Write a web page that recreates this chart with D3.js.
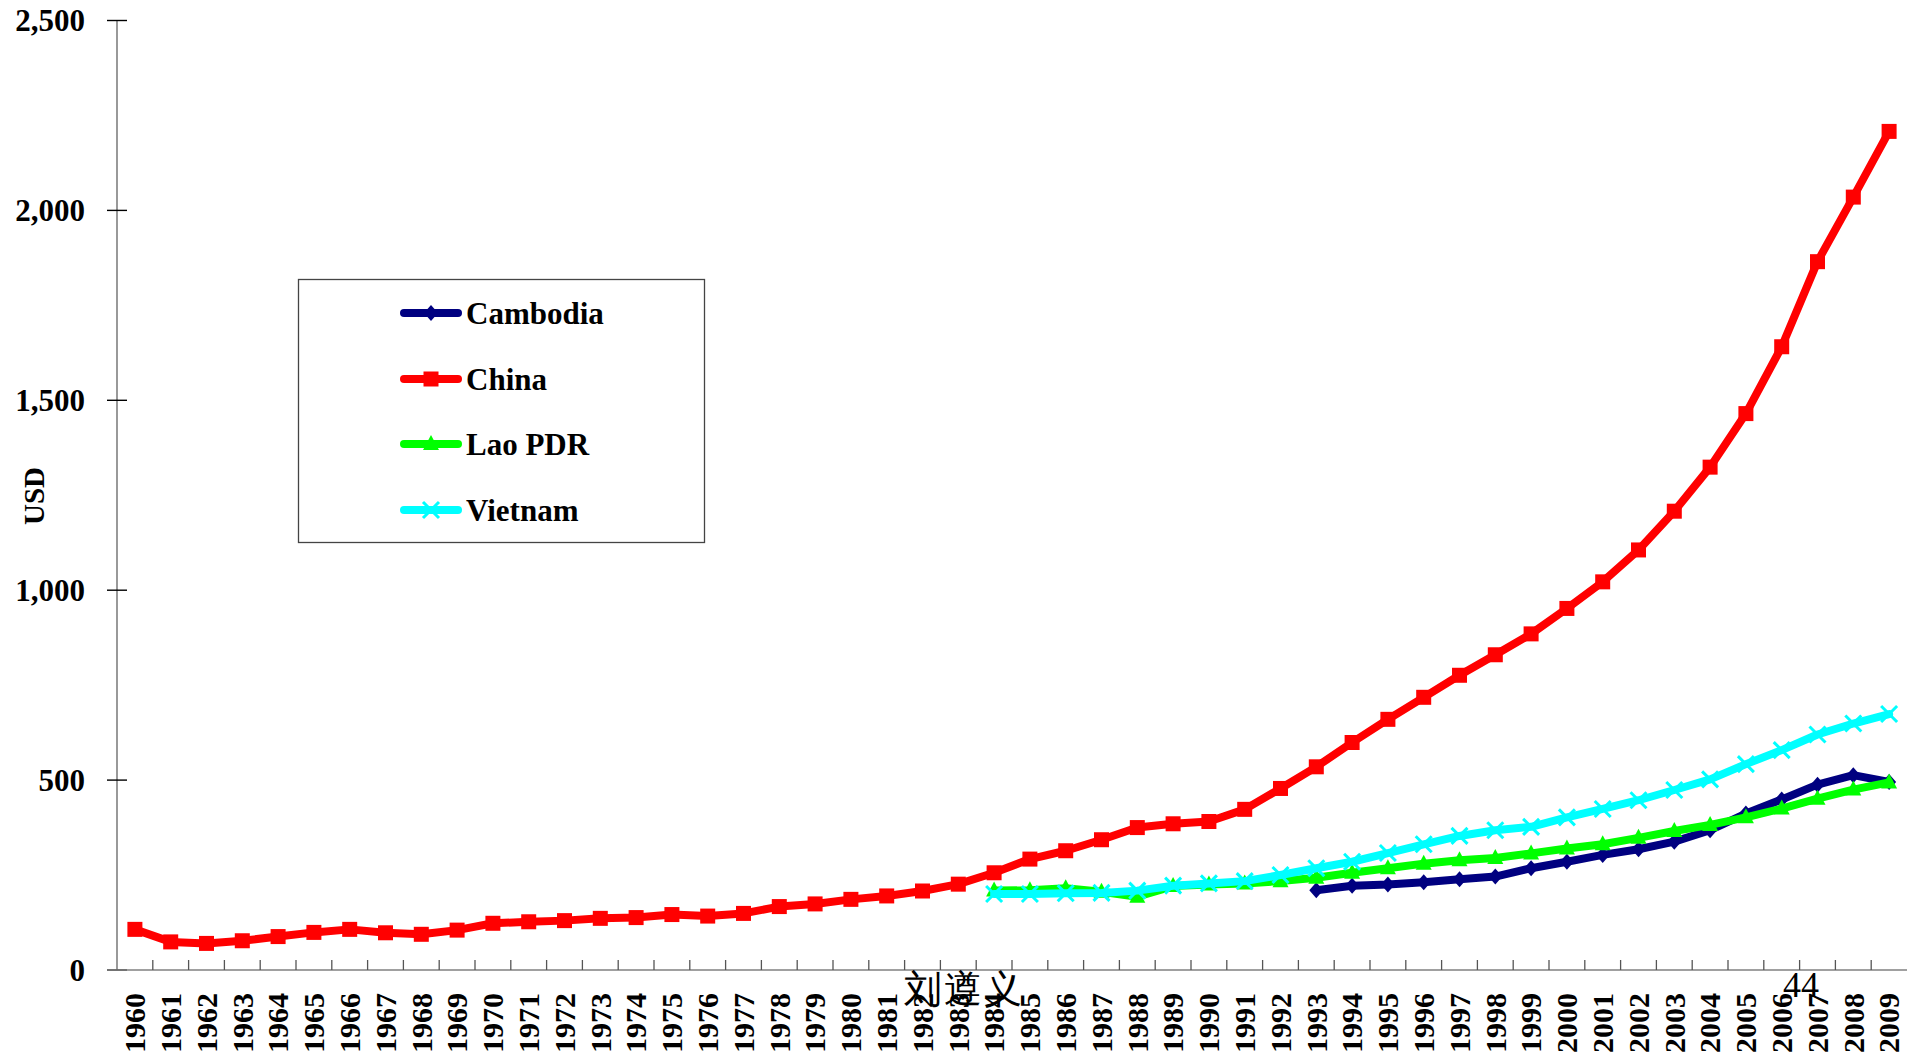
<!DOCTYPE html>
<html>
<head>
<meta charset="utf-8">
<script src="https://cdn.jsdelivr.net/npm/d3@7/dist/d3.min.js"></script>
<style>
  html, body { margin: 0; padding: 0; background: #fff; }
  svg { display: block; }
  text { font-family: "Liberation Serif", "Times New Roman", serif; }
</style>
</head>
<body>
<svg id="chart" width="1907" height="1057"></svg>
<script>
// ---- data ----
const years = [1960,1961,1962,1963,1964,1965,1966,1967,1968,1969,
  1970,1971,1972,1973,1974,1975,1976,1977,1978,1979,
  1980,1981,1982,1983,1984,1985,1986,1987,1988,1989,
  1990,1991,1992,1993,1994,1995,1996,1997,1998,1999,
  2000,2001,2002,2003,2004,2005,2006,2007,2008,2009];

const china = [107,74,70,77,88,99,107,98,94,105,
  123,127,130,136,138,146,142,149,167,174,
  186,195,208,226,256,292,314,343,375,385,
  391,423,478,535,599,660,718,776,830,885,
  952,1022,1106,1208,1324,1465,1641,1865,2035,2208];

const vietnamYears = [1984,1985,1986,1987,1988,1989,1990,1991,1992,1993,1994,1995,1996,
  1997,1998,1999,2000,2001,2002,2003,2004,2005,2006,2007,2008,2009];
const vietnam = [200,200,202,203,209,222,228,234,250,268,285,308,331,
  353,368,377,402,424,447,474,502,542,579,620,649,674];

const laoYears = vietnamYears;
const lao = [209,210,215,206,193,221,225,228,234,243,256,268,280,
  289,295,307,320,331,348,366,382,402,425,451,475,494];

const cambodiaYears = [1993,1994,1995,1996,1997,1998,1999,2000,2001,2002,2003,2004,2005,2006,2007,2008,2009];
const cambodia = [210,222,225,231,239,246,268,285,303,318,338,368,412,449,488,513,495];

const yTicks = [0,500,1000,1500,2000,2500];
const yTickLabels = ["0","500","1,000","1,500","2,000","2,500"];

const seriesNames = ["Cambodia","China","Lao PDR","Vietnam"];

// ---- layout ----
const svg = d3.select("#chart");
const x = d3.scaleBand().domain(years).range([117, 1907]).padding(0);
const y = d3.scaleLinear().domain([0, 2500]).range([970, 20.5]);
const cx = yr => x(yr) + x.bandwidth() / 2;

// y axis line
svg.append("line").attr("x1", 117).attr("x2", 117).attr("y1", y(2500)).attr("y2", y(0))
  .attr("stroke", "#808080").attr("stroke-width", 1.6);
// y ticks
svg.selectAll(".ytick").data(yTicks).enter().append("line")
  .attr("x1", 107).attr("x2", 127).attr("y1", d => y(d)).attr("y2", d => y(d))
  .attr("stroke", "#000").attr("stroke-width", 1.4);
svg.selectAll(".ylab").data(yTicks).enter().append("text")
  .attr("x", 85).attr("y", d => y(d)).attr("dy", "0.34em")
  .attr("text-anchor", "end").attr("font-weight", "bold").attr("font-size", 31)
  .text((d, i) => yTickLabels[i]);

// x axis line
svg.append("line").attr("x1", 107).attr("x2", 1907).attr("y1", y(0)).attr("y2", y(0))
  .attr("stroke", "#808080").attr("stroke-width", 1.6);
// x ticks at category boundaries
svg.selectAll(".xtick").data(years.slice(1)).enter().append("line")
  .attr("x1", d => x(d)).attr("x2", d => x(d)).attr("y1", y(0)).attr("y2", y(0) - 10)
  .attr("stroke", "#555").attr("stroke-width", 1.3);
// x labels
svg.selectAll(".xlab").data(years).enter().append("text")
  .attr("transform", d => `translate(${cx(d)},993) rotate(-90)`)
  .attr("dy", "0.34em").attr("text-anchor", "end")
  .attr("font-weight", "bold").attr("font-size", 30)
  .text(d => d);

// y axis title
svg.append("text").attr("transform", "translate(34,496) rotate(-90)")
  .attr("dy", "0.34em").attr("text-anchor", "middle")
  .attr("font-weight", "bold").attr("font-size", 29).text("USD");

// ---- markers ----
function marker(g, type, color, px, py) {
  if (type === "diamond") {
    g.append("path").attr("d", `M${px},${py-8}L${px+7},${py}L${px},${py+8}L${px-7},${py}Z`).attr("fill", color);
  } else if (type === "square") {
    g.append("rect").attr("x", px-7.5).attr("y", py-7.5).attr("width", 15).attr("height", 15).attr("fill", color);
  } else if (type === "triangle") {
    g.append("path").attr("d", `M${px},${py-9}L${px+8},${py+6}L${px-8},${py+6}Z`).attr("fill", color);
  } else if (type === "x") {
    g.append("path").attr("d", `M${px-8},${py-8}L${px+8},${py+8}M${px+8},${py-8}L${px-8},${py+8}`)
      .attr("stroke", color).attr("stroke-width", 3).attr("fill", "none");
  }
}

const series = [
  { name: seriesNames[0], yrs: cambodiaYears, vals: cambodia, color: "#000080", m: "diamond" },
  { name: seriesNames[1], yrs: years, vals: china, color: "#FF0000", m: "square" },
  { name: seriesNames[2], yrs: laoYears, vals: lao, color: "#00FF00", m: "triangle" },
  { name: seriesNames[3], yrs: vietnamYears, vals: vietnam, color: "#00FFFF", m: "x" }
];

const line = d3.line().x(d => cx(d[0])).y(d => y(d[1]));

series.forEach(s => {
  const pts = s.yrs.map((yr, i) => [yr, s.vals[i]]);
  const g = svg.append("g");
  g.append("path").attr("d", line(pts)).attr("fill", "none")
    .attr("stroke", s.color).attr("stroke-width", 8)
    .attr("stroke-linejoin", "round").attr("stroke-linecap", "round");
  pts.forEach(p => marker(g, s.m, s.color, cx(p[0]), y(p[1])));
});

// ---- legend ----
const lg = svg.append("g");
lg.append("rect").attr("x", 298.5).attr("y", 279.5).attr("width", 406).attr("height", 263)
  .attr("fill", "#fff").attr("stroke", "#444").attr("stroke-width", 1.3);
const rows = [313, 379, 444, 510];
series.forEach((s, i) => {
  const ry = rows[i];
  lg.append("line").attr("x1", 404).attr("x2", 458).attr("y1", ry).attr("y2", ry)
    .attr("stroke", s.color).attr("stroke-width", 8).attr("stroke-linecap", "round");
  marker(lg, s.m, s.color, 431, ry);
  lg.append("text").attr("x", 466).attr("y", ry).attr("dy", "0.34em")
    .attr("font-weight", "bold").attr("font-size", 31).text(s.name);
});

// ---- overlay texts ----
svg.append("text").attr("x", 904).attr("y", 1002)
  .attr("font-family", "'Noto Serif CJK SC','Noto Sans CJK SC',serif")
  .attr("font-weight", 300).attr("font-size", 38).attr("letter-spacing", 2).text("刘遵义");
svg.append("text").attr("x", 1783).attr("y", 997)
  .attr("font-size", 36).text("44");
</script>
</body>
</html>
